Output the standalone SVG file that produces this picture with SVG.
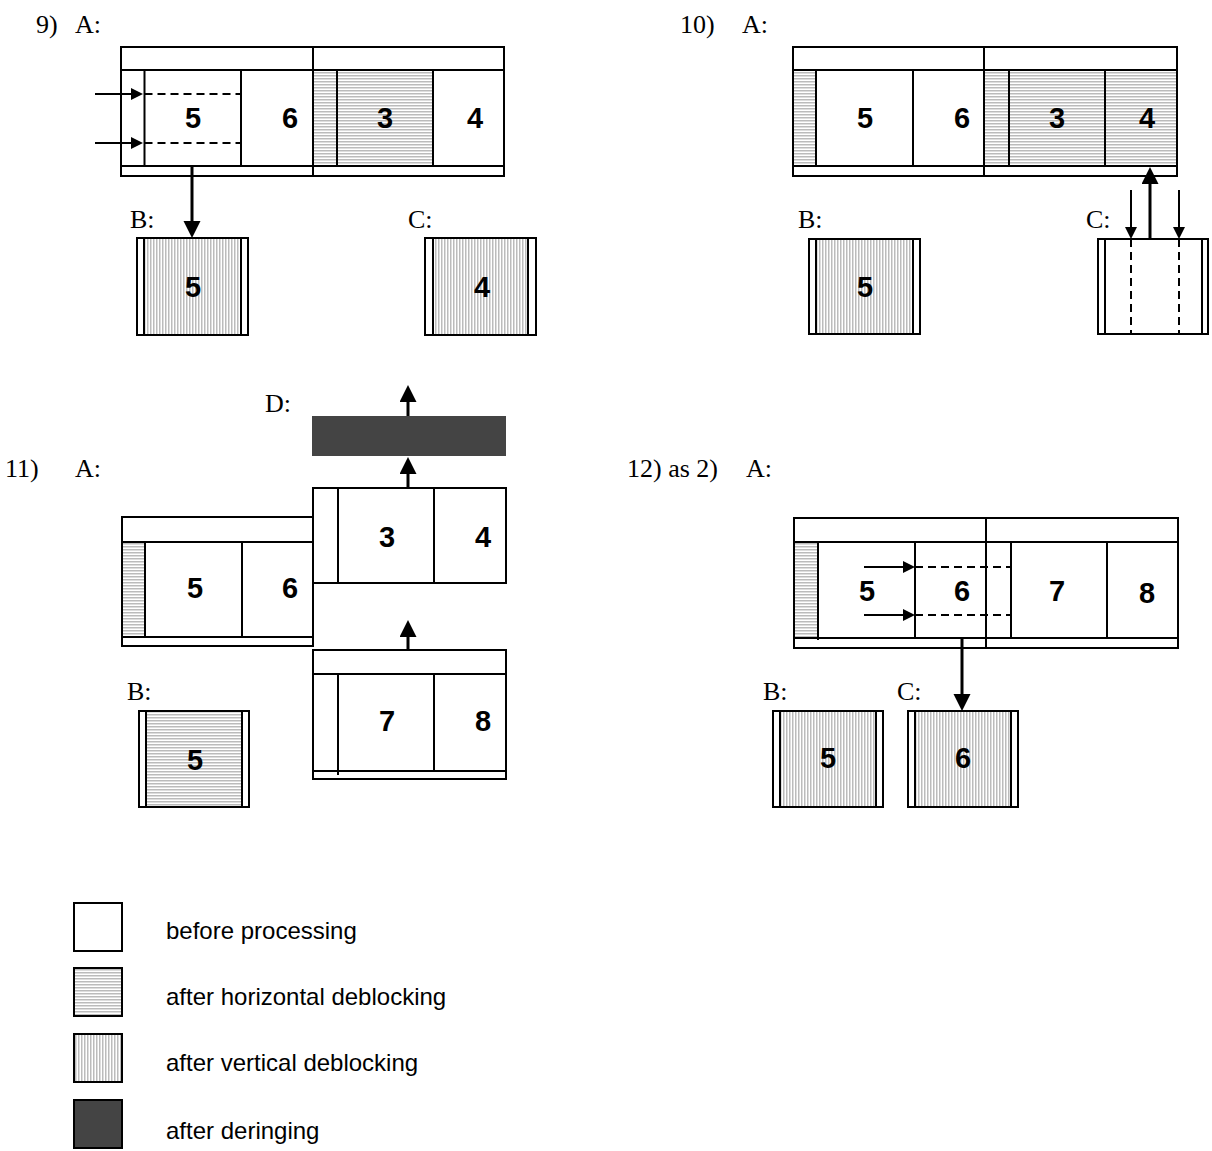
<svg xmlns="http://www.w3.org/2000/svg" width="1212" height="1151" viewBox="0 0 1212 1151">
<style>
.box{fill:none;stroke:#000;stroke-width:2}
.ln{fill:none;stroke:#000;stroke-width:2}
.dash{fill:none;stroke:#000;stroke-width:2;stroke-dasharray:8,5}
.num{font-family:"Liberation Sans",Arial,sans-serif;font-weight:bold;font-size:29px;text-anchor:middle;fill:#000}
.lab{font-family:"Liberation Serif","Times New Roman",serif;font-size:26px;fill:#000}
.leg{font-family:"Liberation Sans",Arial,sans-serif;font-size:24px;fill:#000}
.thin{fill:none;stroke:#000;stroke-width:2;marker-end:url(#arrS)}
.thick{fill:none;stroke:#000;stroke-width:3;marker-end:url(#arrL)}
</style>
<defs>
<pattern id="hh" width="4" height="3" patternUnits="userSpaceOnUse"><rect width="4" height="3" fill="#fff"/><rect width="4" height="1.5" fill="#bbb"/></pattern>
<pattern id="vh" width="3" height="4" patternUnits="userSpaceOnUse"><rect width="3" height="4" fill="#fff"/><rect width="1.5" height="4" fill="#bbb"/></pattern>
<marker id="arrS" markerUnits="userSpaceOnUse" markerWidth="13" markerHeight="13" refX="6" refY="6" orient="auto"><path d="M0,0 L12,6 L0,12 z" fill="#000"/></marker>
<marker id="arrL" markerUnits="userSpaceOnUse" markerWidth="18" markerHeight="18" refX="8" refY="8.5" orient="auto"><path d="M0,0 L17,8.5 L0,17 z" fill="#000"/></marker>
</defs>
<rect width="1212" height="1151" fill="#fff"/>

<!-- Panel 9 -->
<text class="lab" x="36" y="33">9)</text>
<text class="lab" x="75" y="33">A:</text>
<g id="p9-A">
<rect x="313" y="70" width="120" height="96" fill="url(#hh)"/>
<rect class="box" x="121" y="47" width="383" height="129"/>
<path class="ln" d="M121,70H504 M121,166H504 M313,47V176 M144.5,70V166 M241,70V166 M337,70V166 M433,70V166"/>
<path class="dash" d="M144.5,94H241 M144.5,143H241"/>
<text class="num" x="193" y="128">5</text>
<text class="num" x="290" y="128">6</text>
<text class="num" x="385" y="128">3</text>
<text class="num" x="475" y="128">4</text>
</g>
<text class="lab" x="130" y="228">B:</text>
<g id="p9-B">
<rect x="144" y="238" width="97" height="97" fill="url(#vh)"/>
<rect class="box" x="137" y="238" width="111" height="97"/>
<path class="ln" d="M144,238V335 M241,238V335"/>
<text class="num" x="193" y="297">5</text>
</g>
<text class="lab" x="408" y="228">C:</text>
<g id="p9-C">
<rect x="433" y="238" width="95" height="97" fill="url(#vh)"/>
<rect class="box" x="425" y="238" width="111" height="97"/>
<path class="ln" d="M433,238V335 M528,238V335"/>
<text class="num" x="482" y="297">4</text>
</g>

<!-- Panel 10 -->
<text class="lab" x="680" y="33">10)</text>
<text class="lab" x="742" y="33">A:</text>
<g id="p10-A">
<rect x="793" y="70" width="23" height="96" fill="url(#hh)"/>
<rect x="984" y="70" width="193" height="96" fill="url(#hh)"/>
<rect class="box" x="793" y="47" width="384" height="129"/>
<path class="ln" d="M793,70H1177 M793,166H1177 M984,47V176 M816,70V166 M913,70V166 M1009,70V166 M1105,70V166"/>
<text class="num" x="865" y="128">5</text>
<text class="num" x="962" y="128">6</text>
<text class="num" x="1057" y="128">3</text>
<text class="num" x="1147" y="128">4</text>
</g>
<text class="lab" x="798" y="228">B:</text>
<g id="p10-B">
<rect x="816" y="239" width="97" height="95" fill="url(#vh)"/>
<rect class="box" x="809" y="239" width="111" height="95"/>
<path class="ln" d="M816,239V334 M913,239V334"/>
<text class="num" x="865" y="297">5</text>
</g>
<text class="lab" x="1086" y="228">C:</text>
<g id="p10-C">
<rect class="box" x="1098" y="239" width="110" height="95"/>
<path class="ln" d="M1105,239V334 M1202,239V334"/>
<path class="dash" d="M1131,239V334 M1179,239V334"/>
</g>

<!-- Panel 11 -->
<text class="lab" x="5" y="477">11)</text>
<text class="lab" x="75" y="477">A:</text>
<text class="lab" x="265" y="412">D:</text>
<g id="p11-D">
<rect x="312" y="416" width="194" height="40" fill="#444"/>
</g>
<g id="p11-A34">
<rect class="box" x="313" y="488" width="193" height="95"/>
<path class="ln" d="M338,488V583 M434,488V583"/>
<text class="num" x="387" y="547">3</text>
<text class="num" x="483" y="547">4</text>
</g>
<g id="p11-A56">
<rect x="122" y="542" width="23" height="95" fill="url(#hh)"/>
<rect class="box" x="122" y="517" width="191" height="129"/>
<path class="ln" d="M122,542H313 M122,637H313 M145,542V637 M242,542V637"/>
<text class="num" x="195" y="598">5</text>
<text class="num" x="290" y="598">6</text>
</g>
<g id="p11-A78">
<rect class="box" x="313" y="650" width="193" height="129"/>
<path class="ln" d="M313,674H506 M313,771H506 M338,674V775 M434,674V771"/>
<text class="num" x="387" y="731">7</text>
<text class="num" x="483" y="731">8</text>
</g>
<text class="lab" x="127" y="700">B:</text>
<g id="p11-B">
<rect x="146" y="711" width="96" height="96" fill="url(#hh)"/>
<rect class="box" x="139" y="711" width="110" height="96"/>
<path class="ln" d="M146,711V807 M242,711V807"/>
<text class="num" x="195" y="770">5</text>
</g>

<!-- Panel 12 -->
<text class="lab" x="718" y="477" text-anchor="end">12) as 2)</text>
<text class="lab" x="746" y="477">A:</text>
<g id="p12-A">
<rect x="794" y="542" width="24" height="96" fill="url(#hh)"/>
<rect class="box" x="794" y="518" width="384" height="130"/>
<path class="ln" d="M794,542H1178 M794,638H1178 M986,518V648 M818,542V640 M915,542V638 M1011,542V638 M1107,542V638"/>
<path class="dash" d="M915,567H1011 M915,615H1011"/>
<text class="num" x="867" y="601">5</text>
<text class="num" x="962" y="601">6</text>
<text class="num" x="1057" y="601">7</text>
<text class="num" x="1147" y="603">8</text>
</g>
<text class="lab" x="763" y="700">B:</text>
<g id="p12-B">
<rect x="780" y="711" width="96" height="96" fill="url(#vh)"/>
<rect class="box" x="773" y="711" width="110" height="96"/>
<path class="ln" d="M780,711V807 M876,711V807"/>
<text class="num" x="828" y="768">5</text>
</g>
<text class="lab" x="897" y="700">C:</text>
<g id="p12-C">
<rect x="915" y="711" width="96" height="96" fill="url(#vh)"/>
<rect class="box" x="908" y="711" width="110" height="96"/>
<path class="ln" d="M915,711V807 M1011,711V807"/>
<text class="num" x="963" y="768">6</text>
</g>

<!-- Connectors -->
<g id="connectors">
<path class="thin" d="M95,94H137"/>
<path class="thin" d="M95,143H137"/>
<path class="thick" d="M192,166V229"/>
<path class="thick" d="M1150,239V176"/>
<path class="thin" d="M1131,190V233"/>
<path class="thin" d="M1179,190V233"/>
<path class="thick" d="M408,416V394"/>
<path class="thick" d="M408,488V466"/>
<path class="thick" d="M408,650V629"/>
<path class="thin" d="M864,567H909"/>
<path class="thin" d="M864,615H909"/>
<path class="thick" d="M962,638V702"/>
</g>

<!-- Legend -->
<g id="legend-before">
<rect class="box" x="74" y="903" width="48" height="48" fill="#fff"/>
<text class="leg" x="166" y="939">before processing</text>
</g>
<g id="legend-hdeblock">
<rect x="74" y="968" width="48" height="48" fill="url(#hh)" stroke="#000" stroke-width="2"/>
<text class="leg" x="166" y="1005">after horizontal deblocking</text>
</g>
<g id="legend-vdeblock">
<rect x="74" y="1034" width="48" height="48" fill="url(#vh)" stroke="#000" stroke-width="2"/>
<text class="leg" x="166" y="1071">after vertical deblocking</text>
</g>
<g id="legend-dering">
<rect x="74" y="1100" width="48" height="48" fill="#444" stroke="#000" stroke-width="2"/>
<text class="leg" x="166" y="1139">after deringing</text>
</g>
</svg>
